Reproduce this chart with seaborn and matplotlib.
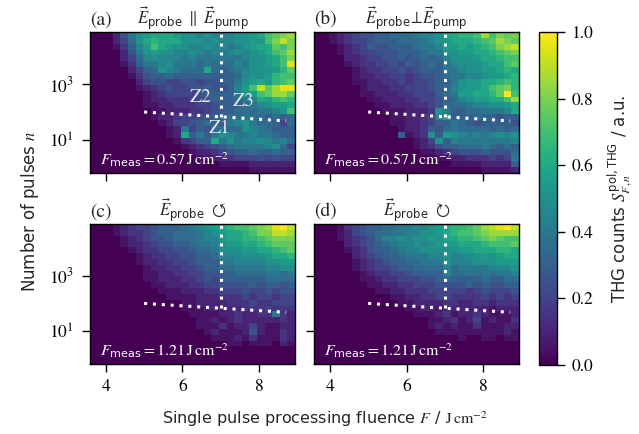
import numpy as np
import matplotlib
matplotlib.use("Agg")
import matplotlib.pyplot as plt
import seaborn as sns

# Heat map cells, top row (largest n) first, low to high fluence.
# One character per cell, value = int(char, 36) / 20  ('a' = 0.5, 'k' = 1.0)
cells_a = [
    "000258abcccbaa9a999aabcefgh",
    "000247acdcccaaa9a99aabbegig",
    "0001369becbaa99a9989abccfeg",
    "0000258abaa99a98989a9abcefh",
    "00002479a999898888889aabceg",
    "0000136889a8887877798aabcej",
    "000002467a98777c76789aaabdf",
    "000001356676666666679aabdee",
    "00000024554455455668abcbdef",
    "00000012345445565569beifhjj",
    "00000001234444566668abefhhf",
    "0000000122333445666789cbded",
    "00000001122333445666789abbc",
    "0000000011222334566777889ae",
    "000000001223445566778776767",
    "00000000012445676689a877647",
    "00000000001284657877a987666",
    "000000000012c6868a988988766",
    "0000000000013466c8a899a9897",
    "000000000000123456788889a74",
    "000000000000012234566766766",
    "000000000000001122344454544",
    "000000000000000001111222222",
    "000000000000000000000111111",
]
cells_b = [
    "0012345566777899accddehegfg",
    "0012344566677789abcccdefhgf",
    "00012346556667889bbcbcdeghi",
    "00012344555666788aabbccdefg",
    "000022344556567679aaabccdee",
    "0000123344546567689aaabccef",
    "00000123344545666889aabbcdc",
    "0000012233443455678899abbcd",
    "0000011223343445668abbccded",
    "0000001222334445679abbcefgd",
    "0000001122233444678bbccdfke",
    "00000001122233445679abbcceh",
    "00000000112223345777899aabc",
    "0000000001112223a866778889c",
    "00000000001122349a666766566",
    "000000000011223466876566665",
    "000000000001223657877776767",
    "000000000006123a6ba98989a9a",
    "0000000000000124a6988888889",
    "000000000000012356677787676",
    "000000000000001123455565557",
    "000000000000000011223334348",
    "000000000000000000111122226",
    "000000000000000000000011112",
]
cells_c = [
    "000123445666789abcdeefghjki",
    "0001233456677789abccdeggiih",
    "00001234556777899bccddefggg",
    "00001223455667889abbccdefff",
    "00000123344556778aaabbccdef",
    "00000012334455667999aaabccd",
    "00000012233445666889999aabb",
    "0000000122334456677888899aa",
    "000000011223344556677778878",
    "000000011222334546666667777",
    "000000001122233445555656656",
    "000000000111222334445445455",
    "000000000011112223334344344",
    "000000000000112222333433444",
    "000000000000111222223334333",
    "000000000000011112232233832",
    "000000000000001121232222232",
    "000000000000001113122421122",
    "000000000000000121112521132",
    "000000000000000011121311132",
    "000000000000000000110111021",
    "000000000000000000000000000",
    "000000000000000000000000000",
    "000000000000000000000000000",
]
cells_d = [
    "000134566778899abcddefhijki",
    "00012456778899aabcdeefghhhh",
    "00012345799a9aabaccddefgfee",
    "0000234567899a9abbbcccdeeef",
    "00001235667899aaaaabbcccddc",
    "00000234566788899a99aababcc",
    "00000123456677888a999aaabbb",
    "00000123445667777978888999a",
    "000000123344566669778787889",
    "000000112334445567666676677",
    "000000011223344455556565566",
    "000000001122333444443454445",
    "000000000011223344333343434",
    "000000000001122223322332333",
    "000000000000112212222221222",
    "000000000000011123122321112",
    "000000000000000112312412113",
    "000000000000000121211311122",
    "000000000000000011111111121",
    "000000000000000000010011011",
    "000000000000000000000000000",
    "000000000000000000000000000",
    "000000000000000000000000000",
    "000000000000000000000000000",
]

F_edges = np.linspace(3.59, 8.93, 28)        # fluence bin edges / J cm^-2
log_n_edges = np.linspace(-0.18, 4.86, 25)   # log10 of pulse number bin edges

panel_tags = ["(a)", "(b)", "(c)", "(d)"]
panel_titles = [
    r"$\vec{E}_\mathsf{probe}\ \parallel\ \vec{E}_\mathsf{pump}$",
    r"$\vec{E}_\mathsf{probe}\!\perp\!\vec{E}_\mathsf{pump}$",
    r"$\vec{E}_\mathsf{probe}\ \circlearrowleft$",
    r"$\vec{E}_\mathsf{probe}\ \circlearrowright$",
]
F_meas = ["0.57", "0.57", "1.21", "1.21"]

# zone borders (dotted)
border_h_F = [5.0, 8.7]
border_h_n = [100, 48]
border_v_F = [7.0, 7.0]
border_v_n = [68, 1e5]
zone_names = ["Z1", "Z2", "Z3"]
zone_F = [6.97, 6.47, 7.58]
zone_n = [25, 320, 230]

sns.set_theme(style="ticks")
plt.rcParams["font.family"] = ["STIXGeneral", "DejaVu Sans"]
plt.rcParams["mathtext.fontset"] = "custom"
plt.rcParams["mathtext.rm"] = "STIXGeneral"
plt.rcParams["mathtext.it"] = "STIXGeneral:italic"
plt.rcParams["mathtext.bf"] = "STIXGeneral:bold"
plt.rcParams["mathtext.sf"] = "DejaVu Sans"
plt.rcParams["mathtext.fallback"] = "stix"
plt.rcParams["axes.linewidth"] = 1.0
plt.rcParams["axes.edgecolor"] = "black"
plt.rcParams["xtick.color"] = "black"
plt.rcParams["ytick.color"] = "black"

cmap = sns.color_palette("viridis", as_cmap=True)


def decode(rows):
    return np.array([[int(ch, 36) / 20 for ch in r] for r in rows])[::-1]


fig = plt.figure(figsize=(6.39, 4.34), dpi=100)
boxes = [
    [0.1408, 0.6014, 0.3208, 0.3249],
    [0.4914, 0.6014, 0.3208, 0.3249],
    [0.1408, 0.1613, 0.3208, 0.3226],
    [0.4914, 0.1613, 0.3208, 0.3226],
]
n_edges = 10 ** log_n_edges
mesh = None
for i, cells in enumerate([cells_a, cells_b, cells_c, cells_d]):
    ax = fig.add_axes(boxes[i])
    mesh = ax.pcolormesh(F_edges, n_edges, decode(cells), cmap=cmap,
                         vmin=0, vmax=1, shading="flat", rasterized=True)
    ax.set_yscale("log")
    ax.set_xlim(F_edges[0], F_edges[-1])
    ax.set_ylim(n_edges[0], n_edges[-1])
    ax.set_xticks([4, 6, 8])
    ax.set_yticks([10, 1000])
    ax.yaxis.set_minor_locator(matplotlib.ticker.NullLocator())
    ax.tick_params(direction="out", length=5.5, width=1.0, labelsize=12.5)
    ax.tick_params(axis="y", pad=6)
    ax.tick_params(axis="x", pad=5)
    if i < 2:
        ax.tick_params(labelbottom=False)
    if i % 2 == 1:
        ax.tick_params(labelleft=False)

    ax.plot(border_h_F, border_h_n, color="white", lw=2.2, ls=(0, (1, 1.9)))
    ax.plot(border_v_F, border_v_n, color="white", lw=2.2, ls=(0, (1, 1.9)))

    ax.set_title(panel_tags[i], loc="left", fontsize=14, pad=5)
    ax.set_title(panel_titles[i], loc="center", fontsize=12, pad=5)
    ax.text(0.05, 0.03,
            r"$F_\mathsf{meas} = " + F_meas[i] + r"\,\mathrm{J\,cm^{-2}}$",
            transform=ax.transAxes, color="white", fontsize=11.5,
            ha="left", va="bottom")
    if i == 0:
        for name, zf, zn in zip(zone_names, zone_F, zone_n):
            ax.text(zf, zn, name, color="#e8e8f0", fontsize=14,
                    ha="center", va="center")

cax = fig.add_axes([0.844, 0.159, 0.0272, 0.767])
cb = fig.colorbar(mesh, cax=cax, ticks=[0, 0.2, 0.4, 0.6, 0.8, 1.0])
cb.ax.yaxis.set_major_formatter(matplotlib.ticker.FormatStrFormatter("%.1f"))
cb.ax.tick_params(direction="out", length=5.5, width=1.0, labelsize=12.5, pad=5)
cb.outline.set_linewidth(1.0)
cb.set_label(r"THG counts $S^{\mathsf{pol,THG}}_{F,n}$ / a.u.",
             family="DejaVu Sans", fontsize=12, labelpad=9)

fig.text(0.047, 0.514, r"Number of pulses $n$", rotation=90,
         family="DejaVu Sans", fontsize=12, ha="center", va="center")
fig.text(0.509, 0.035,
         r"Single pulse processing fluence $F$ / $\mathrm{J\,cm^{-2}}$",
         family="DejaVu Sans", fontsize=11.5, ha="center", va="center")

fig.savefig("out.png", dpi=100)
